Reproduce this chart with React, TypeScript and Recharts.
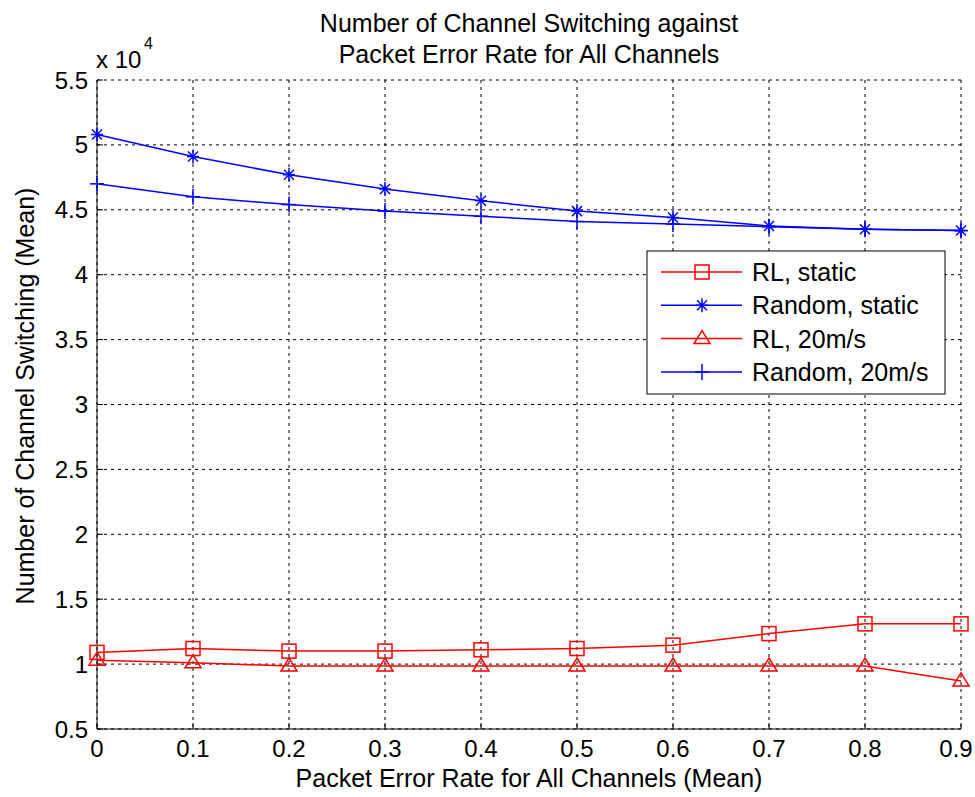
// Channel-switching count vs. packet error rate, MATLAB-style figure
// redrawn with Recharts. Values are ×10^4.
import { CartesianGrid, Line, LineChart, XAxis, YAxis } from "recharts";

const per = [0, 0.1, 0.2, 0.3, 0.4, 0.5, 0.6, 0.7, 0.8, 0.9];
const rlStatic = [1.09, 1.12, 1.1, 1.1, 1.11, 1.12, 1.146, 1.235, 1.31, 1.31];
const randomStatic = [5.08, 4.91, 4.77, 4.66, 4.57, 4.49, 4.44, 4.375, 4.35, 4.34];
const rl20 = [1.03, 1.01, 0.985, 0.985, 0.985, 0.985, 0.985, 0.985, 0.985, 0.87];
const random20 = [4.7, 4.6, 4.54, 4.49, 4.45, 4.41, 4.39, 4.37, 4.35, 4.34];

const xTicks = [0, 0.1, 0.2, 0.3, 0.4, 0.5, 0.6, 0.7, 0.8, 0.9];
const yTicks = [0.5, 1, 1.5, 2, 2.5, 3, 3.5, 4, 4.5, 5, 5.5];

const RED = "#ff0000";
const BLUE = "#0000ff";
const FONT = "'Liberation Sans', Arial, sans-serif";
const FS = 24;

const data = per.map((x, i) => ({
  x,
  rlStatic: rlStatic[i],
  randomStatic: randomStatic[i],
  rl20: rl20[i],
  random20: random20[i],
}));

type Marker = "square" | "star" | "triangle" | "plus";

function markerShape(kind: Marker, cx: number, cy: number, color: string, key?: string) {
  const sw = 1.5;
  if (kind === "square")
    return <rect key={key} x={cx - 7} y={cy - 7} width={14} height={14} fill="none" stroke={color} strokeWidth={sw} />;
  if (kind === "triangle")
    return (
      <polygon key={key} points={`${cx},${cy - 8} ${cx - 8},${cy + 5} ${cx + 8},${cy + 5}`} fill="none" stroke={color} strokeWidth={sw} />
    );
  if (kind === "plus")
    return (
      <g key={key} stroke={color} strokeWidth={sw}>
        <line x1={cx - 7} y1={cy} x2={cx + 7} y2={cy} />
        <line x1={cx} y1={cy - 8} x2={cx} y2={cy + 8} />
      </g>
    );
  return (
    <g key={key} stroke={color} strokeWidth={sw}>
      <line x1={cx - 6} y1={cy} x2={cx + 6} y2={cy} />
      <line x1={cx} y1={cy - 7} x2={cx} y2={cy + 7} />
      <line x1={cx - 5} y1={cy - 5} x2={cx + 5} y2={cy + 5} />
      <line x1={cx - 5} y1={cy + 5} x2={cx + 5} y2={cy - 5} />
    </g>
  );
}

const dotOf = (kind: Marker, color: string) => (props: any) =>
  markerShape(kind, props.cx, props.cy, color, `${kind}-${props.index}`);

// x tick: the last label ("0.9") would run past the window edge, so
// keep its centre far enough inside the frame.
function XTick(props: any) {
  const { x, payload } = props;
  const cx = Math.min(x, 975 - 19);
  return (
    <text x={cx} y={757} textAnchor="middle" fontSize={FS} fontFamily={FONT} fill="#000">
      {String(payload.value)}
    </text>
  );
}

const legendItems: { label: string; color: string; kind: Marker }[] = [
  { label: "RL, static", color: RED, kind: "square" },
  { label: "Random, static", color: BLUE, kind: "star" },
  { label: "RL, 20m/s", color: RED, kind: "triangle" },
  { label: "Random, 20m/s", color: BLUE, kind: "plus" },
];

// Legend and annotation text live in an overlay SVG so baselines can be
// placed exactly where the MATLAB figure has them.
function Overlay() {
  return (
    <svg width={975} height={797} style={{ position: "absolute", left: 0, top: 0, pointerEvents: "none" }} fontFamily={FONT}>
      <text x={529} y={32} textAnchor="middle" fontSize={25} fill="#000">
        Number of Channel Switching against
      </text>
      <text x={529} y={63} textAnchor="middle" fontSize={25} fill="#000">
        Packet Error Rate for All Channels
      </text>
      <text x={96} y={68} fontSize={24} fill="#000">
        x 10
      </text>
      <text x={144} y={49} fontSize={16} fill="#000">
        4
      </text>
      <text x={529} y={787} textAnchor="middle" fontSize={25} fill="#000">
        Packet Error Rate for All Channels (Mean)
      </text>
      <text x={0} y={0} transform="translate(34 396) rotate(-90)" textAnchor="middle" fontSize={25} fill="#000">
        Number of Channel Switching (Mean)
      </text>

      <rect x={647} y={251} width={298} height={143} fill="#fff" stroke="#000" strokeWidth={1} />
      {legendItems.map((it, i) => {
        const cy = 272 + i * 33.3;
        return (
          <g key={it.label}>
            <line x1={661} y1={cy} x2={742} y2={cy} stroke={it.color} strokeWidth={1.5} />
            {markerShape(it.kind, 702, cy, it.color)}
            <text x={752} y={cy + 9} fontSize={25} fill="#000">
              {it.label}
            </text>
          </g>
        );
      })}
    </svg>
  );
}

export default function App() {
  return (
    <div style={{ position: "absolute", left: 0, top: 0, width: 975, height: 797, background: "#fff" }}>
      <LineChart width={975} height={797} data={data} margin={{ top: 80, right: 14, bottom: 38, left: 37 }}>
        <CartesianGrid stroke="#000" strokeDasharray="3 4" strokeWidth={1} />
        <XAxis
          dataKey="x"
          type="number"
          domain={[0, 0.9]}
          ticks={xTicks}
          interval={0}
          stroke="#000"
          tickSize={-6}
          height={30}
          tick={<XTick />}
        />
        <YAxis
          type="number"
          domain={[0.5, 5.5]}
          ticks={yTicks}
          interval={0}
          stroke="#000"
          tickSize={-6}
          tickMargin={15}
          width={60}
          tick={{ fill: "#000", fontSize: FS, fontFamily: FONT }}
        />
        <Line dataKey="rlStatic" stroke={RED} strokeWidth={1.5} dot={dotOf("square", RED)} isAnimationActive={false} />
        <Line dataKey="randomStatic" stroke={BLUE} strokeWidth={1.5} dot={dotOf("star", BLUE)} isAnimationActive={false} />
        <Line dataKey="rl20" stroke={RED} strokeWidth={1.5} dot={dotOf("triangle", RED)} isAnimationActive={false} />
        <Line dataKey="random20" stroke={BLUE} strokeWidth={1.5} dot={dotOf("plus", BLUE)} isAnimationActive={false} />
      </LineChart>
      <Overlay />
    </div>
  );
}
